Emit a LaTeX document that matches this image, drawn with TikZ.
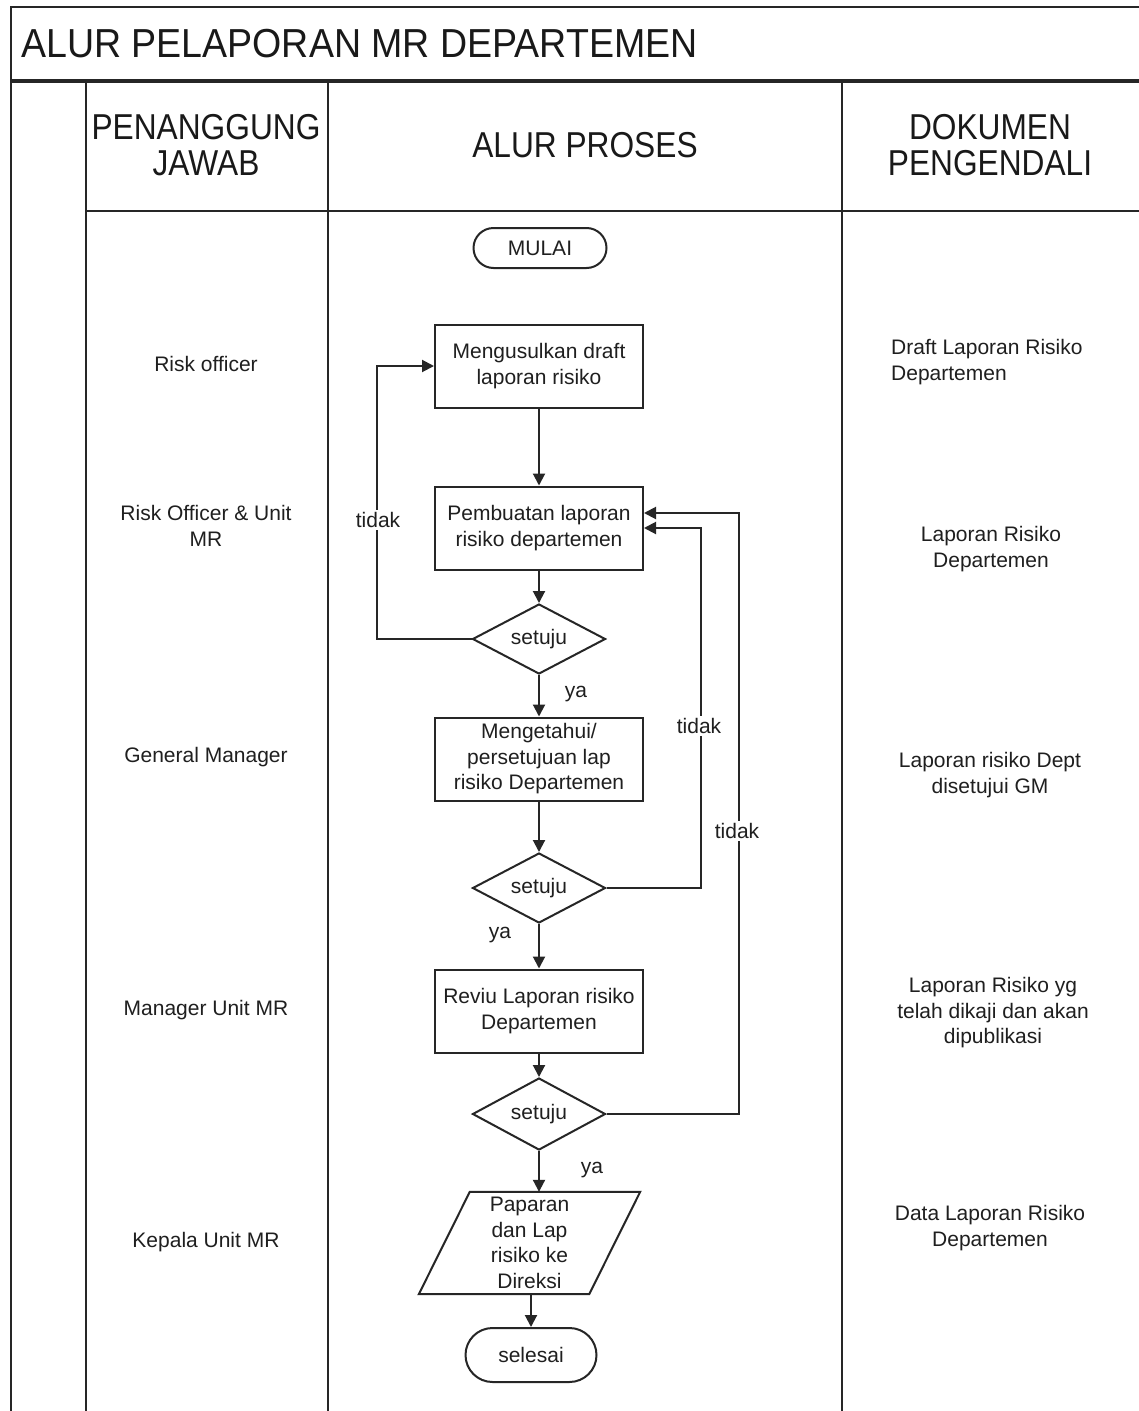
\documentclass[tikz,border=0pt]{standalone}
\usepackage{fontspec}
\setmainfont{Liberation Sans}
\newfontfamily\titlefont[FakeStretch=0.927]{Liberation Sans}
\newfontfamily\headfont[FakeStretch=0.88]{Liberation Sans}
\usetikzlibrary{shapes.geometric,shapes.misc,arrows.meta}
\begin{document}
\begin{tikzpicture}[x=1pt,y=-1pt,
  frame/.style={line width=2.6pt,draw=black!85},
  flow/.style={line width=2pt,draw=black!85},
  arr/.style={flow,-{Triangle[width=12pt,length=12pt]}},
  txt/.style={font=\fontsize{21}{25.5}\selectfont,align=center,inner sep=0pt,text=black!88},
  head/.style={font=\headfont\fontsize{36}{36}\selectfont,align=center,inner sep=0pt,text=black!90},
  proc/.style={txt,draw=black!85,line width=2pt,rectangle,minimum width=208pt,minimum height=83pt},
  dec/.style={txt,draw=black!85,line width=2pt,diamond,aspect=1.9,minimum width=133pt,minimum height=70pt},
  term/.style={txt,draw=black!85,line width=2pt,rounded rectangle,minimum width=133pt,minimum height=40pt},
  lbl/.style={txt,fill=white,inner sep=2pt}]
\useasboundingbox (0,0) rectangle (1139,1411);
\fill[white] (0,0) rectangle (1139,1411);

% table frame
\draw[frame] (11,1411) -- (11,7) -- (1139,7);
\draw[frame,line width=3.4pt] (11,81) -- (1139,81);
\draw[frame] (86,81) -- (86,1411);
\draw[frame] (328,81) -- (328,1411);
\draw[frame] (842,81) -- (842,1411);
\draw[frame] (86,211) -- (1139,211);

% title and column headers
\node[anchor=base west,inner sep=0pt,font=\titlefont\fontsize{40.5}{40.5}\selectfont,text=black!90] (title) at (21,57) {ALUR PELAPORAN MR DEPARTEMEN};
\node[head] (hpj) at (206,145) {PENANGGUNG\\JAWAB};
\node[head] (hap) at (585,145) {ALUR PROSES};
\node[head] (hdp) at (990,145) {DOKUMEN\\PENGENDALI};

% responsible parties
\node[txt] (r1) at (206,364) {Risk officer};
\node[txt] (r2) at (206,526) {Risk Officer \& Unit\\MR};
\node[txt] (r3) at (206,757) {General Manager};
\node[txt] (r4) at (206,1010) {Manager Unit MR};
\node[txt] (r5) at (206,1242) {Kepala Unit MR};

% control documents
\node[txt,align=left,anchor=west] (d1doc) at (891,362) {Draft Laporan Risiko\\Departemen};
\node[txt] (d2doc) at (991,549) {Laporan Risiko\\Departemen};
\node[txt] (d3doc) at (990,775) {Laporan risiko Dept\\disetujui GM};
\node[txt] (d4doc) at (993,1013) {Laporan Risiko yg\\telah dikaji dan akan\\dipublikasi};
\node[txt] (d5doc) at (990,1228) {Data Laporan Risiko\\Departemen};

% process flow
\node[term] (start) at (540,248) {MULAI};
\node[proc] (b1) at (539,366) {Mengusulkan draft\\laporan risiko};
\node[proc] (b2) at (539,528) {Pembuatan laporan\\risiko departemen};
\node[dec] (q1) at (539,639) {setuju};
\node[proc] (b3) at (539,759) {Mengetahui/\\persetujuan lap\\risiko Departemen};
\node[dec] (q2) at (539,888) {setuju};
\node[proc] (b4) at (539,1011) {Reviu Laporan risiko\\Departemen};
\node[dec,minimum height=72pt] (q3) at (539,1114) {setuju};
\node[txt,minimum width=170pt,minimum height=102pt] (pub) at (529.5,1243) {Paparan\\dan Lap\\risiko ke\\Direksi};
\draw[flow] ([xshift=25.5pt]pub.north west) -- ([xshift=25.5pt]pub.north east)
  -- ([xshift=-25.5pt]pub.south east) -- ([xshift=-25.5pt]pub.south west) -- cycle;
\node[term,minimum width=131pt,minimum height=54pt] (stop) at (531,1355) {selesai};

% connectors
\draw[arr] (b1) -- (b2);
\draw[arr] (b2) -- (q1);
\draw[arr] (q1) -- (b3);
\draw[arr] (b3) -- (q2);
\draw[arr] (q2) -- (b4);
\draw[arr] (b4) -- (q3);
\draw[arr] (q3.south) -- (q3.south |- pub.north);
\draw[arr] (stop.north |- pub.south) -- (stop.north);

% return loops
\draw[arr] (q1.west) -- ++(-95,0) |- (b1.west);
\draw[arr] (q2.east) -- ++(94,0) |- (b2.east);
\draw[arr] (q3.east) -- ++(132,0) |- ([yshift=15pt]b2.east);

% branch labels
\node[lbl] (t1) at (378,520) {tidak};
\node[lbl] (t2) at (699,726) {tidak};
\node[lbl] (t3) at (737,831) {tidak};
\node[txt] (y1) at (576,694) {ya};
\node[txt] (y2) at (500,935) {ya};
\node[txt] (y3) at (592,1170) {ya};
\end{tikzpicture}
\end{document}
